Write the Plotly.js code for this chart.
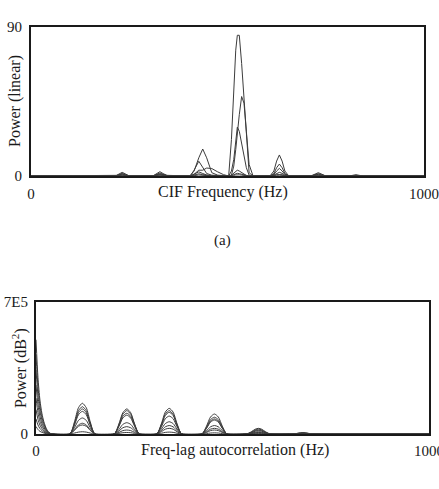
<!DOCTYPE html>
<html>
<head>
<meta charset="utf-8">
<script src="https://cdn.plot.ly/plotly-3.0.1.min.js"></script>
<style>
  html, body { margin: 0; padding: 0; background: #fff; }
  #chart { width: 439px; height: 489px; }
</style>
</head>
<body>
<div id="chart"></div>
<script>
// ---- (a) CIF spectrum: frequency grid (Hz) and power (linear) per record ----
const cifHz = [0, 215, 224, 232, 240, 250, 310, 320, 328, 336, 346, 405, 415, 427, 437, 447, 460, 475, 490,
  503, 510, 516, 521, 525, 530, 536, 542, 548, 555, 565, 608, 618, 625, 632, 639, 646, 656,
  712, 722, 731, 740, 750, 810, 820, 827, 835, 845, 1000];

const cifPow1 = [0, 0, 1.2, 2.2, 1.3, 0, 0, 1.4, 2.6, 1.5, 0.3, 0.2, 3, 11, 16.3, 11, 2, 0.5, 0.3,
  0, 22, 50, 76, 85, 85, 68, 46, 24, 2, 0, 0, 3, 9, 12.7, 9, 3, 0,
  0, 1.0, 2.0, 1.1, 0, 0, 0.4, 0.8, 0.4, 0, 0];
const cifPow2 = [0, 0, 0.8, 1.6, 0.9, 0, 0, 0.9, 1.8, 1.0, 0.2, 0, 3.5, 8.9, 5, 1.5, 0.5, 0.3, 0.2,
  0, 0.5, 6, 16, 26, 37, 48, 44, 27, 7, 0, 0, 1.5, 5, 7.2, 5, 1.5, 0,
  0, 0.7, 1.4, 0.8, 0, 0, 0.3, 0.5, 0.3, 0, 0];
const cifPow3 = [0, 0, 0.6, 1.2, 0.7, 0, 0, 0.7, 1.3, 0.8, 0.4, 0, 1, 3.5, 3.5, 4.8, 4.5, 2.5, 0.8,
  0, 3, 10, 21, 29.5, 27, 20, 12, 5, 0.5, 0, 0, 1, 3, 4.6, 3, 1, 0,
  0, 0.5, 1.0, 0.5, 0, 0, 0.2, 0.4, 0.2, 0, 0];
const cifPow4 = [0, 0, 0.4, 0.8, 0.4, 0, 0, 0.5, 0.9, 0.5, 0.2, 0, 1, 2.5, 1.5, 0.6, 0.2, 0, 0,
  0, 0.5, 1.5, 2.8, 3.5, 3, 2, 1, 0.3, 0, 0, 0, 0.6, 1.6, 2.2, 1.6, 0.6, 0,
  0, 0.3, 0.6, 0.3, 0, 0, 0.1, 0.3, 0.1, 0, 0];
const cifPow5 = [0, 0, 0.2, 0.5, 0.2, 0, 0, 0.3, 0.6, 0.3, 0.1, 0, 0.5, 1.3, 0.8, 0.3, 0, 0, 0,
  0, 0.3, 0.8, 1.3, 1.6, 1.4, 1, 0.5, 0.1, 0, 0, 0, 0.3, 0.8, 1.0, 0.8, 0.3, 0,
  0, 0.2, 0.4, 0.2, 0, 0, 0.1, 0.2, 0.1, 0, 0];
const cifPow6 = [0, 0, 0.1, 0.3, 0.1, 0, 0, 0.1, 0.3, 0.1, 0, 0, 0.2, 0.6, 0.4, 0.1, 0, 0, 0,
  0, 0.1, 0.4, 0.6, 0.8, 0.7, 0.5, 0.2, 0, 0, 0, 0, 0.1, 0.4, 0.5, 0.4, 0.1, 0,
  0, 0.1, 0.2, 0.1, 0, 0, 0, 0.1, 0, 0, 0];

// ---- (b) frequency-lag autocorrelation: lag grid (Hz) and power (dB^2) per record ----
const lagHz = [0, 5, 10, 15, 20, 26, 32, 40,
  86, 98, 108, 118, 128, 138, 150,
  199, 211, 221, 231, 241, 251, 263,
  307, 319, 329, 339, 349, 359, 371,
  422, 434, 444, 454, 464, 474, 486,
  536, 548, 558, 566, 574, 584, 596,
  655, 667, 679, 691, 703, 1000];

const lagPow1 = [500000, 300000, 180000, 110000, 65000, 30000, 10000, 0,
  0, 65000, 139000, 163000, 139000, 65000, 0,
  0, 53000, 113000, 133000, 113000, 53000, 0,
  0, 54000, 116000, 136000, 116000, 54000, 0,
  0, 42000, 90000, 106000, 90000, 42000, 0,
  0, 12000, 25500, 30000, 25500, 12000, 0,
  0, 4200, 7000, 4200, 0, 0];
const lagPow2 = [420000, 252000, 151000, 92000, 55000, 25000, 8000, 0,
  0, 58000, 123000, 145000, 123000, 58000, 0,
  0, 50000, 105000, 124000, 105000, 50000, 0,
  0, 50000, 105000, 124000, 105000, 50000, 0,
  0, 36000, 76000, 89000, 76000, 36000, 0,
  0, 10000, 22000, 26000, 22000, 10000, 0,
  0, 3600, 6000, 3600, 0, 0];
const lagPow3 = [340000, 204000, 122000, 75000, 44000, 20000, 7000, 0,
  0, 53000, 113000, 133000, 113000, 53000, 0,
  0, 44000, 94000, 110000, 94000, 44000, 0,
  0, 46000, 98000, 115000, 98000, 46000, 0,
  0, 32000, 68000, 80000, 68000, 32000, 0,
  0, 8400, 18000, 21000, 18000, 8400, 0,
  0, 3000, 5000, 3000, 0, 0];
const lagPow4 = [260000, 156000, 94000, 57000, 34000, 16000, 5000, 0,
  0, 48000, 102000, 120000, 102000, 48000, 0,
  0, 40000, 85000, 100000, 85000, 40000, 0,
  0, 38000, 81000, 95000, 81000, 38000, 0,
  0, 30000, 63000, 74000, 63000, 30000, 0,
  0, 7200, 15000, 18000, 15000, 7200, 0,
  0, 2400, 4000, 2400, 0, 0];
const lagPow5 = [190000, 114000, 68000, 42000, 25000, 11000, 4000, 0,
  0, 34000, 72000, 85000, 72000, 34000, 0,
  0, 24000, 51000, 60000, 51000, 24000, 0,
  0, 26000, 55000, 65000, 55000, 26000, 0,
  0, 18000, 38000, 45000, 38000, 18000, 0,
  0, 4800, 10000, 12000, 10000, 4800, 0,
  0, 1800, 3000, 1800, 0, 0];
const lagPow6 = [130000, 78000, 47000, 29000, 17000, 8000, 3000, 0,
  0, 23000, 48000, 57000, 48000, 23000, 0,
  0, 16000, 33000, 39000, 33000, 16000, 0,
  0, 18000, 38000, 45000, 38000, 18000, 0,
  0, 12000, 25500, 30000, 25500, 12000, 0,
  0, 3200, 6800, 8000, 6800, 3200, 0,
  0, 1200, 2000, 1200, 0, 0];
const lagPow7 = [80000, 48000, 29000, 18000, 10000, 5000, 2000, 0,
  0, 19000, 41000, 48000, 41000, 19000, 0,
  0, 8400, 18000, 21000, 18000, 8400, 0,
  0, 12000, 25500, 30000, 25500, 12000, 0,
  0, 8400, 18000, 21000, 18000, 8400, 0,
  0, 2000, 4200, 5000, 4200, 2000, 0,
  0, 600, 1000, 600, 0, 0];
const lagPow8 = [40000, 24000, 14000, 9000, 5000, 2000, 1000, 0,
  0, 5000, 10000, 12000, 10000, 5000, 0,
  0, 3200, 6800, 8000, 6800, 3200, 0,
  0, 4000, 8500, 10000, 8500, 4000, 0,
  0, 2400, 5000, 6000, 5000, 2400, 0,
  0, 800, 1700, 2000, 1700, 800, 0,
  0, 300, 500, 300, 0, 0];

// ---- axis tick labels ----
const cifXTicks = [0, 1000];
const cifYTicks = [0, 90];
const lagXTicks = [0, 1000];
const lagYTicks = [0, 700000];
const lagYTickText = ['0', '7E5'];

const FONT = 'Liberation Serif, Times New Roman, serif';
const INK = '#1a1a1a';
const LINE = '#3c3c3c';

const cifSeries = [cifPow1, cifPow2, cifPow3, cifPow4, cifPow5, cifPow6];
const lagSeries = [lagPow1, lagPow2, lagPow3, lagPow4, lagPow5, lagPow6, lagPow7, lagPow8];

const traces = [];
cifSeries.forEach(function (ys) {
  traces.push({
    x: cifHz, y: ys, type: 'scatter', mode: 'lines',
    xaxis: 'x', yaxis: 'y',
    line: { color: LINE, width: 1 },
    hoverinfo: 'skip'
  });
});
lagSeries.forEach(function (ys) {
  traces.push({
    x: lagHz, y: ys, type: 'scatter', mode: 'lines',
    xaxis: 'x2', yaxis: 'y2',
    line: { color: LINE, width: 1, shape: 'spline', smoothing: 0.7 },
    hoverinfo: 'skip'
  });
});

function frameAxis(extra) {
  return Object.assign({
    showline: true, mirror: true, linecolor: INK, linewidth: 2,
    showgrid: false, zeroline: false, ticks: '',
    tickfont: { family: FONT, size: 15, color: INK },
    ticklabeloverflow: 'allow',
    fixedrange: true, automargin: false
  }, extra);
}

const layout = {
  width: 439, height: 489,
  margin: { l: 0, r: 0, t: 0, b: 0, pad: 0 },
  paper_bgcolor: '#fff', plot_bgcolor: '#fff',
  showlegend: false,
  xaxis: frameAxis({ domain: [0.0706, 0.9658], range: [0, 1000], tickvals: cifXTicks, anchor: 'y', ticklabelstandoff: 3 }),
  yaxis: frameAxis({ domain: [0.6401, 0.9448], range: [0, 90], tickvals: cifYTicks, anchor: 'x', ticklabelstandoff: 4 }),
  xaxis2: frameAxis({ domain: [0.0820, 0.9772], range: [0, 1000], tickvals: lagXTicks, anchor: 'y2', ticklabelstandoff: 2 }),
  yaxis2: frameAxis({ domain: [0.1125, 0.3824], range: [0, 700000], tickvals: lagYTicks, ticktext: lagYTickText, anchor: 'x2', ticklabelstandoff: 3 }),
  annotations: [
    { text: 'CIF Frequency (Hz)', xref: 'paper', yref: 'paper', x: 0.508, y: 0.6074,
      xanchor: 'center', yanchor: 'middle', showarrow: false, font: { family: FONT, size: 16, color: INK } },
    { text: 'Power (linear)', xref: 'paper', yref: 'paper', x: 0.0342, y: 0.7935, textangle: -90,
      xanchor: 'center', yanchor: 'middle', showarrow: false, font: { family: FONT, size: 16, color: INK } },
    { text: '(a)', xref: 'paper', yref: 'paper', x: 0.5057, y: 0.5092,
      xanchor: 'center', yanchor: 'middle', showarrow: false, font: { family: FONT, size: 15, color: INK } },
    { text: 'Freq-lag autocorrelation (Hz)', xref: 'paper', yref: 'paper', x: 0.5353, y: 0.0798,
      xanchor: 'center', yanchor: 'middle', showarrow: false, font: { family: FONT, size: 16, color: INK } },
    { text: 'Power (dB<sup>2</sup>)', xref: 'paper', yref: 'paper', x: 0.0433, y: 0.2474, textangle: -90,
      xanchor: 'center', yanchor: 'middle', showarrow: false, font: { family: FONT, size: 16, color: INK } }
  ]
};

Plotly.newPlot('chart', traces, layout, { staticPlot: true, displayModeBar: false });
</script>
</body>
</html>
